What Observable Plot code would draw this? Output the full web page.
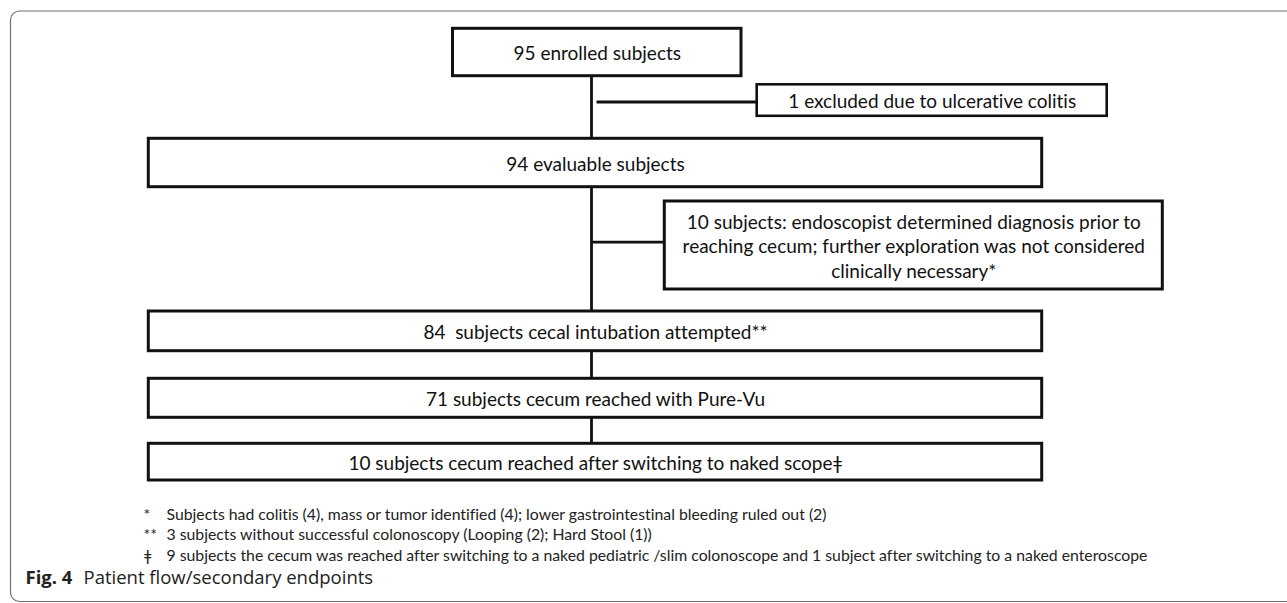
<!DOCTYPE html>
<html>
<head>
<meta charset="utf-8">
<script src="https://cdn.jsdelivr.net/npm/d3@7"></script>
<script src="https://cdn.jsdelivr.net/npm/@observablehq/plot@0.6"></script>
<style>
  html, body { margin: 0; padding: 0; background: #fff; overflow: hidden; }
  #chart svg { display: block; overflow: visible; }
  #chart svg text { font-variant-ligatures: none; font-feature-settings: "liga" 0, "clig" 0; }
</style>
</head>
<body>
<div id="chart"></div>
<script>
// ---- content (data) ----
const nodeIds = ["enrolled", "excluded", "evaluable", "diagnosed", "attempted", "pureVu", "naked"];
const nodeLabels = [
  "95 enrolled subjects",
  "1 excluded due to ulcerative colitis",
  "94 evaluable subjects",
  "10 subjects: endoscopist determined diagnosis prior to\nreaching cecum; further exploration was not considered\nclinically necessary*",
  "84  subjects cecal intubation attempted**",
  "71 subjects cecum reached with Pure-Vu",
  "10 subjects cecum reached after switching to naked scopeǂ"
];
const edgeFrom = ["enrolled", "evaluable", "attempted", "pureVu", "enrolled-evaluable", "evaluable-attempted"];
const edgeTo   = ["evaluable", "attempted", "pureVu", "naked", "excluded", "diagnosed"];
const footMarks = ["*", "**", "ǂ"];
const footTexts = [
  "Subjects had colitis (4), mass or tumor identified (4); lower gastrointestinal bleeding ruled out (2)",
  "3 subjects without successful colonoscopy (Looping (2); Hard Stool (1))",
  "9 subjects the cecum was reached after switching to a naked pediatric /slim colonoscope and 1 subject after switching to a naked enteroscope"
];
const captionLabel = "Fig. 4";
const captionText = "Patient flow/secondary endpoints";

// ---- layout (positions in page units) ----
const layout = {
  enrolled:  {x1: 452.5, x2: 741,    y1: 28.3,  y2: 75.7},
  excluded:  {x1: 756.7, x2: 1106.7, y1: 84.3,  y2: 115.8},
  evaluable: {x1: 148.3, x2: 1041.7, y1: 138.3, y2: 186.7},
  diagnosed: {x1: 664.3, x2: 1162.3, y1: 201,   y2: 289},
  attempted: {x1: 148.3, x2: 1041.7, y1: 311,   y2: 350.7},
  pureVu:    {x1: 148.3, x2: 1041.7, y1: 378.3, y2: 417.3},
  naked:     {x1: 148.3, x2: 1041.7, y1: 443.3, y2: 480}
};
const spineX = 591;
const sideY = {"enrolled-evaluable": 101.5, "evaluable-attempted": 241.7};
const sideStartX = {"enrolled-evaluable": 596, "evaluable-attempted": spineX};
const footX = {mark: 143, text: 166};
const footY = [514, 534.5, 555];
const captionPos = {x1: 25, x2: 83, y: 578};
const frame = {x1: 10.5, x2: 1320, y1: 11, y2: 601.5};

// ---- build tables ----
const boxes = nodeIds.map((id, i) => ({id, label: nodeLabels[i], ...layout[id]}));
const links = edgeFrom.map((f, i) => {
  const t = edgeTo[i];
  if (layout[f]) {
    return {x1: spineX, x2: spineX, y1: layout[f].y2, y2: layout[t].y1};
  }
  return {x1: sideStartX[f], x2: layout[t].x1, y1: sideY[f], y2: sideY[f]};
});
const notes = footTexts.map((t, i) => ({mark: footMarks[i], text: t, y: footY[i]}));

const font = "Lato, 'Open Sans', sans-serif";

const chart = Plot.plot({
  width: 1287,
  height: 603,
  margin: 0,
  x: {type: "linear", domain: [0, 1287], range: [0, 1287], axis: null},
  y: {type: "linear", domain: [0, 603], range: [0, 603], axis: null},
  style: {fontFamily: font, background: "white", overflow: "visible"},
  marks: [
    Plot.rect([frame], {x1: "x1", x2: "x2", y1: "y1", y2: "y2", rx: 9, fill: "none", stroke: "#6f6f6f", strokeWidth: 1.2}),
    Plot.link(links, {x1: "x1", y1: "y1", x2: "x2", y2: "y2", stroke: "#111", strokeWidth: 2.8}),
    Plot.rect(boxes, {x1: "x1", x2: "x2", y1: "y1", y2: "y2", fill: "white", stroke: "#111", strokeWidth: d => d.id === "excluded" ? 2.6 : 3}),
    Plot.text(boxes, {
      x: d => (d.x1 + d.x2) / 2,
      y: d => (d.y1 + d.y2) / 2,
      text: "label",
      fontSize: 19,
      lineHeight: 1.29,
      fill: "#111",
      fontFamily: font
    }),
    Plot.text(notes, {x: () => footX.mark, y: "y", text: "mark", textAnchor: "start", fontSize: 15.8, fill: "#222", fontFamily: font}),
    Plot.text(notes, {x: () => footX.text, y: "y", text: "text", textAnchor: "start", fontSize: 15.8, fill: "#222", fontFamily: font}),
    Plot.text([captionLabel], {x: () => captionPos.x1, y: () => captionPos.y, text: d => d, textAnchor: "start", fontSize: 18.5, fontWeight: "bold", fill: "#222", fontFamily: "'Open Sans', sans-serif"}),
    Plot.text([captionText], {x: () => captionPos.x2, y: () => captionPos.y, text: d => d, textAnchor: "start", fontSize: 18.5, fill: "#222", fontFamily: "'Open Sans', sans-serif"})
  ]
});
document.getElementById("chart").appendChild(chart);
</script>
</body>
</html>
